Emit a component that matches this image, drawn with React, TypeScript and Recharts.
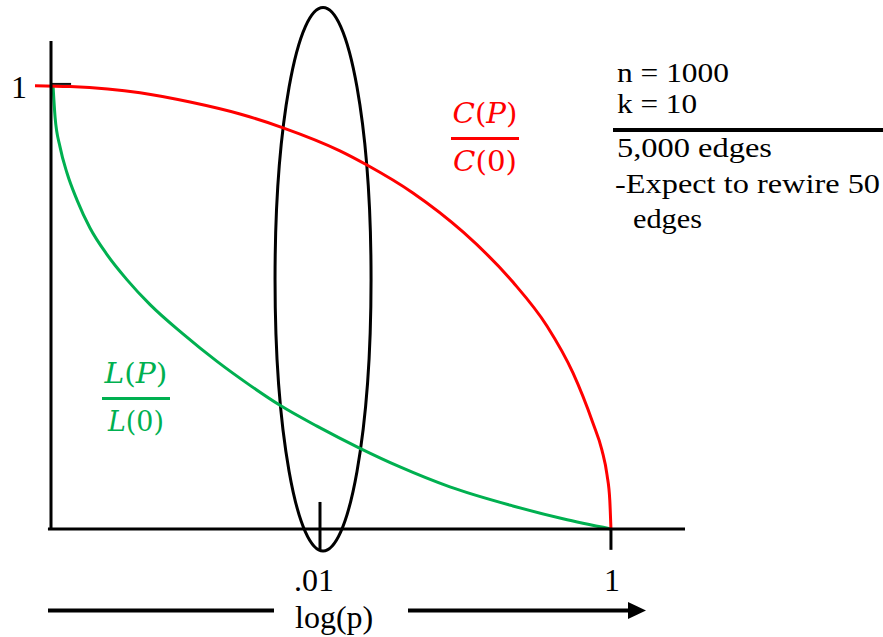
import {
  LineChart,
  Line,
  XAxis,
  YAxis,
  ReferenceLine,
  ReferenceArea,
} from "recharts";

// x is log10(p), y is the ratio to the p = 0 value
const redLogP = [-3.959, -3.718, -3.237, -2.893, -2.55, -2.254, -1.863, -1.677, -1.361, -1.017, -0.674, -0.44, -0.261, -0.124, -0.062, -0.027, -0.008, 0];
const redRatio = [1.0, 0.998, 0.984, 0.963, 0.936, 0.905, 0.853, 0.821, 0.758, 0.67, 0.557, 0.458, 0.352, 0.239, 0.178, 0.122, 0.065, 0];

const greenLogP = [-3.835, -3.821, -3.787, -3.739, -3.67, -3.581, -3.464, -3.326, -3.168, -2.942, -2.708, -2.481, -2.275, -2.021, -1.725, -1.45, -1.107, -0.674, -0.33, 0];
const greenRatio = [1.0, 0.929, 0.862, 0.803, 0.742, 0.679, 0.619, 0.562, 0.506, 0.44, 0.378, 0.324, 0.279, 0.232, 0.182, 0.14, 0.095, 0.052, 0.023, 0];

const xTicks = [-2, 0];
const xTickLabels = [".01", "1"];
const yTicks = [1];
const yTickLabels = ["1"];

const notes = ["n = 1000", "k = 10", "5,000 edges", "-Expect to rewire 50", "edges"];

const redData = redLogP.map((x, i) => ({ x, y: redRatio[i] }));
const greenData = greenLogP.map((x, i) => ({ x, y: greenRatio[i] }));

const X_DOMAIN: [number, number] = [-3.959, 0.509];
const Y_DOMAIN: [number, number] = [0, 1.1008];
const Y_AXIS_AT = -3.849;

const SERIF = "'Liberation Serif', 'Times New Roman', serif";
const MATH = "'DejaVu Serif', serif";
const RED = "#ff0000";
const GREEN = "#00b050";

const XTick = (props: any) => {
  const i = xTicks.indexOf(props.payload.value);
  return (
    <text x={props.x + (i === 0 ? -6 : 1)} y={props.y + 62} textAnchor="middle" fontFamily={SERIF} fontSize={32} fill="#000">
      {xTickLabels[i]}
    </text>
  );
};

const YTick = (props: any) => {
  const i = yTicks.indexOf(props.payload.value);
  return (
    <text x={props.x - 8} y={props.y + 12} textAnchor="end" fontFamily={SERIF} fontSize={32} fill="#000">
      {yTickLabels[i]}
    </text>
  );
};

const Ellipse = (props: any) => (
  <ellipse
    cx={props.x + props.width / 2}
    cy={props.y + props.height / 2}
    rx={props.width / 2}
    ry={props.height / 2}
    fill="none"
    stroke="#000"
    strokeWidth={3}
  />
);

const Fraction = ({ cx, top, letter, color, numW, denW }: any) => (
  <g fill={color} fontFamily={MATH} fontSize={28}>
    <text x={cx} y={top} textAnchor="middle" textLength={numW} lengthAdjust="spacingAndGlyphs">
      <tspan fontStyle="italic">{letter}</tspan>(<tspan fontStyle="italic">P</tspan>)
    </text>
    <rect x={cx - 34} y={top + 14} width={68} height={3} fill={color} />
    <text x={cx} y={top + 48} textAnchor="middle" textLength={denW} lengthAdjust="spacingAndGlyphs">
      <tspan fontStyle="italic">{letter}</tspan>(0)
    </text>
  </g>
);

const noteX = [617, 617, 617, 615, 633];
const noteY = [82, 113, 157, 193, 228];
const noteW = [112, 80, 155, 265, 69];

export default function App() {
  return (
    <div style={{ position: "absolute", left: 0, top: 0, width: 883, height: 637, background: "#fff" }}>
      <LineChart width={883} height={637} margin={{ top: 41, right: 198, bottom: 0, left: 0 }}>
        <XAxis
          type="number"
          dataKey="x"
          domain={X_DOMAIN}
          ticks={xTicks}
          height={108}
          axisLine={false}
          tickLine={false}
          tickSize={0}
          tickMargin={0}
          tick={<XTick />}
        />
        <YAxis
          type="number"
          dataKey="y"
          domain={Y_DOMAIN}
          ticks={yTicks}
          width={35}
          axisLine={false}
          tickLine={false}
          tickSize={0}
          tickMargin={0}
          tick={<YTick />}
        />
        <ReferenceLine
          segment={[{ x: Y_AXIS_AT, y: 1.004 }, { x: -3.711, y: 1.004 }]}
          stroke="#111"
          strokeWidth={2}
          ifOverflow="visible"
        />
        <Line data={greenData} dataKey="y" type="monotone" stroke={GREEN} strokeWidth={3} dot={false} isAnimationActive={false} />
        <Line data={redData} dataKey="y" type="monotone" stroke={RED} strokeWidth={3} dot={false} isAnimationActive={false} />
        <ReferenceLine
          segment={[{ x: Y_AXIS_AT, y: 0 }, { x: Y_AXIS_AT, y: Y_DOMAIN[1] }]}
          stroke="#000"
          strokeWidth={3}
          ifOverflow="visible"
        />
        <ReferenceLine
          segment={[{ x: -3.87, y: 0 }, { x: X_DOMAIN[1], y: 0 }]}
          stroke="#000"
          strokeWidth={3}
          ifOverflow="visible"
        />
        <ReferenceLine
          segment={[{ x: -2, y: 0.061 }, { x: -2, y: -0.047 }]}
          stroke="#000"
          strokeWidth={3}
          ifOverflow="visible"
        />
        <ReferenceLine
          segment={[{ x: 0, y: 0 }, { x: 0, y: -0.047 }]}
          stroke="#000"
          strokeWidth={3}
          ifOverflow="visible"
        />
        <ReferenceArea
          x1={-2.309}
          x2={-1.649}
          y1={-0.0496}
          y2={1.1764}
          ifOverflow="visible"
          shape={<Ellipse />}
        />
      </LineChart>
      <svg width={883} height={637} style={{ position: "absolute", left: 0, top: 0, pointerEvents: "none" }}>
        <g fontFamily={SERIF} fontSize={28} fill="#000">
          {notes.map((t, i) => (
            <text key={i} x={noteX[i]} y={noteY[i]} textLength={noteW[i]} lengthAdjust="spacingAndGlyphs">
              {t}
            </text>
          ))}
        </g>
        <rect x={613} y={128} width={270} height={4} fill="#000" />
        <Fraction cx={485} top={123} letter="C" color={RED} numW={65} denW={64} />
        <Fraction cx={136} top={383} letter="L" color={GREEN} numW={63} denW={56} />
        <rect x={48} y={608.5} width={226} height={4} fill="#000" />
        <rect x={408} y={608.5} width={222} height={4} fill="#000" />
        <polygon points="628,602 646,610.5 628,619" fill="#000" />
        <text x={295} y={628} fontFamily={SERIF} fontSize={32} fill="#000">
          log(p)
        </text>
      </svg>
    </div>
  );
}
